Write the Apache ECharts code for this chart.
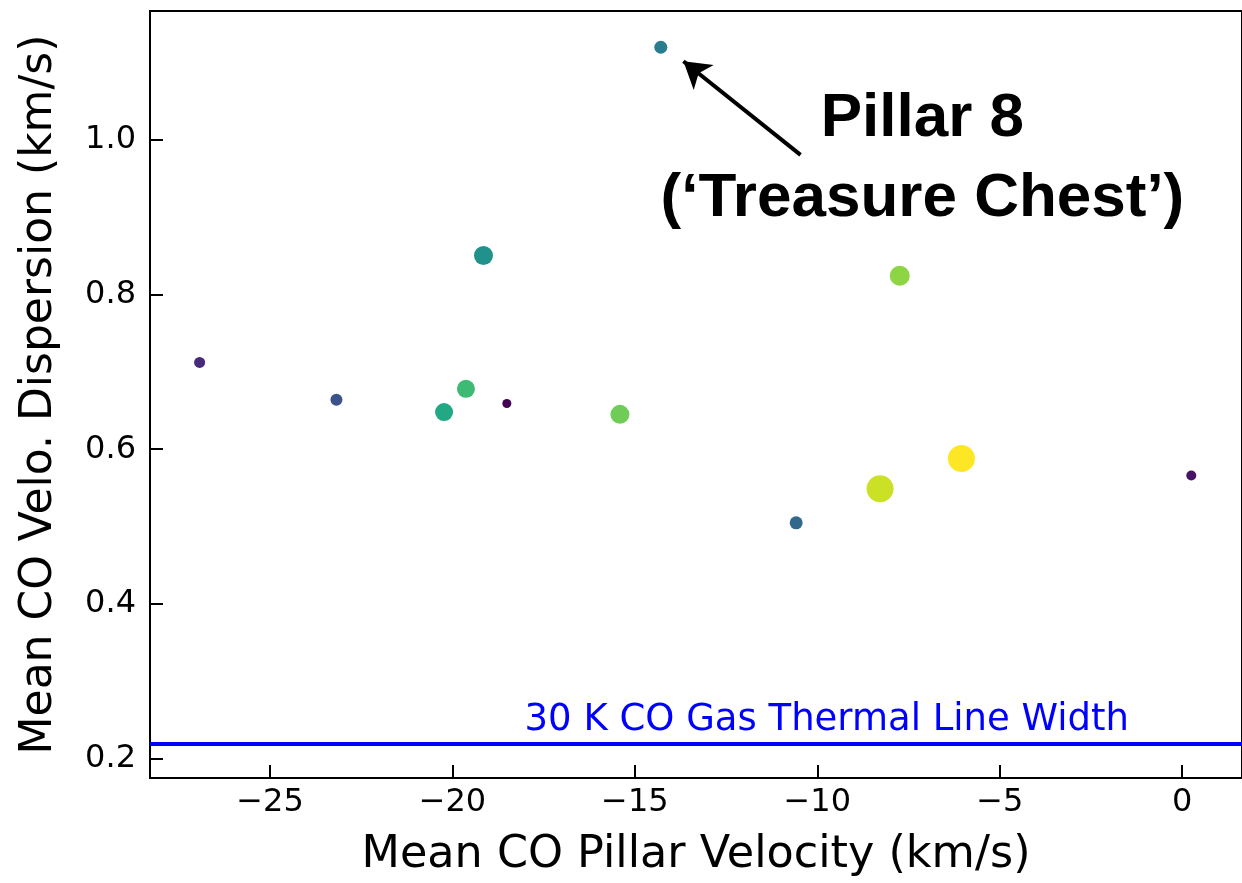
<!DOCTYPE html>
<html>
<head>
<meta charset="utf-8">
<script src="https://cdn.jsdelivr.net/npm/echarts@6/dist/echarts.min.js"></script>
<style>html,body{margin:0;padding:0;background:#fff;}#c{width:1242px;height:883px;}</style>
</head>
<body>
<div id="c"></div>
<script>
// Data
const pillarVelocity   = [-26.93, -23.18, -20.23, -19.63, -19.15, -18.51, -15.41, -14.29, -10.58, -8.28, -7.74, -6.05, 0.25];
const pillarDispersion = [0.712, 0.664, 0.648, 0.678, 0.850, 0.659, 0.645, 1.119, 0.505, 0.549, 0.824, 0.588, 0.566];
const colorValue       = [0.12, 0.25, 0.60, 0.68, 0.50, 0.00, 0.78, 0.42, 0.34, 0.92, 0.83, 1.00, 0.05];
const sizeValue        = [11, 12, 18, 18, 19, 9, 19, 13, 13, 27, 20, 27, 10];
const xTicks = [-25, -20, -15, -10, -5, 0];
const yTicks = [0.2, 0.4, 0.6, 0.8, 1.0];
const thermalWidth = 0.2223;
const thermalLabel = '30 K CO Gas Thermal Line Width';
const thermalLabelAt = [-9.74, 0.2497];
const arrowTail = [-10.46, 0.980];
const arrowHead = [-13.67, 1.101];
const pillarLabel = 'Pillar 8\n(\u2018Treasure Chest\u2019)';
const pillarLabelAt = [-7.12, 0.9747];

const viridis = ['#440154','#482475','#414487','#355f8d','#2a788e','#21918c','#22a884','#44bf70','#7ad151','#bddf26','#fde725'];

const points = pillarVelocity.map((v, i) => [v, pillarDispersion[i], colorValue[i], sizeValue[i]]);

const chart = echarts.init(document.getElementById('c'), null, {renderer: 'canvas'});
const tickFont = {fontFamily: 'DejaVu Sans', fontSize: 32, color: '#000'};
chart.setOption({
  animation: false,
  backgroundColor: '#fff',
  grid: {left: 150, top: 11, width: 1100, height: 767, show: true, borderColor: '#000', borderWidth: 2, backgroundColor: 'transparent'},
  xAxis: {
    type: 'value', min: -28.29, max: 1.64,
    name: 'Mean CO Pillar Velocity (km/s)', nameLocation: 'middle', nameGap: 55,
    nameTextStyle: {fontFamily: 'DejaVu Sans', fontSize: 44.5, color: '#000'},
    axisLine: {show: true, onZero: false, lineStyle: {color: '#000', width: 2}},
    axisTick: {show: true, inside: true, length: 13, lineStyle: {color: '#000', width: 2}, customValues: xTicks},
    axisLabel: Object.assign({margin: 9, customValues: xTicks, formatter: v => String(v).replace('-', '\u2212')}, tickFont),
    splitLine: {show: false}
  },
  yAxis: {
    type: 'value', min: 0.1755, max: 1.1658,
    name: 'Mean CO Velo. Dispersion (km/s)', nameLocation: 'middle', nameGap: 88, nameRotate: 90,
    nameTextStyle: {fontFamily: 'DejaVu Sans', fontSize: 44, color: '#000'},
    axisLine: {show: true, onZero: false, lineStyle: {color: '#000', width: 2}},
    axisTick: {show: true, inside: true, length: 13, lineStyle: {color: '#000', width: 2}, customValues: yTicks},
    axisLabel: Object.assign({margin: 14, customValues: yTicks, formatter: v => v.toFixed(1)}, tickFont),
    splitLine: {show: false}
  },
  visualMap: [
    {type: 'continuous', show: false, seriesIndex: 0, dimension: 2, min: 0, max: 1, inRange: {color: viridis}},
    {type: 'continuous', show: false, seriesIndex: 0, dimension: 3, min: 9, max: 27, inRange: {symbolSize: [9, 27]}}
  ],
  series: [{
    type: 'scatter',
    data: points,
    itemStyle: {opacity: 1},
    markLine: {
      silent: true, animation: false,
      label: {show: false},
      data: [
        {yAxis: thermalWidth, symbol: 'none', lineStyle: {color: '#0000ff', width: 4, type: 'solid'}},
        [
          {coord: arrowTail, symbol: 'none', lineStyle: {color: '#000', width: 4, type: 'solid'}},
          {coord: arrowHead, symbol: 'arrow', symbolSize: [24, 26]}
        ]
      ],
      symbol: ['none', 'none'],
      lineStyle: {color: '#000', width: 4, type: 'solid'},
      itemStyle: {color: '#000'}
    },
    markPoint: {
      silent: true, animation: false,
      symbolSize: 0,
      itemStyle: {color: 'rgba(0,0,0,0)'},
      data: [
        {coord: pillarLabelAt, label: {show: true, position: 'inside', formatter: pillarLabel, fontFamily: 'Liberation Sans', fontWeight: 'bold', fontSize: 62, lineHeight: 80, color: '#000', align: 'center', verticalAlign: 'middle'}},
        {coord: thermalLabelAt, label: {show: true, position: 'inside', formatter: thermalLabel, fontFamily: 'DejaVu Sans', fontSize: 37, color: '#0000ff', align: 'center', verticalAlign: 'middle'}}
      ]
    }
  }]
});
</script>
</body>
</html>
